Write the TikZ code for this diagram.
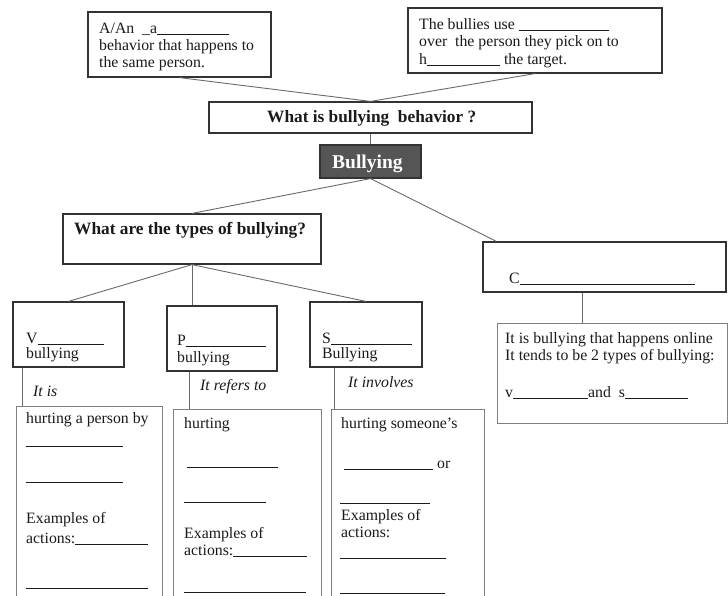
\documentclass[tikz,border=0pt]{standalone}
\usepackage{fontspec}
\setmainfont{Liberation Serif}
\newcommand\bodyfont{\fontsize{15.8}{17}\selectfont}
\newcommand\headfont{\fontsize{17.3}{19}\selectfont\bfseries}
\newcommand\blank[1]{\rule[-1.8pt]{#1pt}{0.6pt}}
\definecolor{ink}{HTML}{1A1A1A}
\definecolor{edge}{HTML}{333333}
\definecolor{softedge}{HTML}{808080}
\definecolor{wire}{HTML}{6A6A6A}
\definecolor{darkfill}{HTML}{555555}
\begin{document}
\begin{tikzpicture}[x=1pt,y=-1pt,
  box/.style={draw=edge,line width=1.2pt,inner sep=0pt,rectangle},
  softbox/.style={draw=softedge,line width=1pt,inner sep=0pt,rectangle},
  darkbox/.style={draw=edge,fill=darkfill,line width=1.2pt,inner sep=0pt,rectangle},
  wirestyle/.style={draw=wire,line width=0.9pt},
  txt/.style={anchor=base west,inner sep=0pt,text=ink,font=\bodyfont},
  head/.style={anchor=base west,inner sep=0pt,text=ink,font=\headfont},
  note/.style={anchor=base west,inner sep=0pt,text=ink,font=\bodyfont\itshape},
  gap/.style={anchor=west,inner sep=0pt,text=ink}
]
\useasboundingbox[fill=white] (0,0) rectangle (728,595);

% ---- boxes ----
\node[box,minimum width=183pt,minimum height=65pt] (A) at (179.5,44.5) {};
\node[box,minimum width=254pt,minimum height=65pt] (Bx) at (535,40.5) {};
\node[box,minimum width=323pt,minimum height=31pt] (Q) at (370.5,117.5) {};
\node[darkbox,minimum width=101pt,minimum height=33pt] (Bul) at (370.5,161.5) {};
\node[box,minimum width=258pt,minimum height=50pt] (T) at (192,239) {};
\node[box,minimum width=243pt,minimum height=50pt] (C) at (604.5,267) {};
\node[box,minimum width=111pt,minimum height=65pt] (V) at (68.5,334.5) {};
\node[box,minimum width=110pt,minimum height=65pt] (P) at (222,338.5) {};
\node[box,minimum width=112pt,minimum height=65pt] (S) at (366,334.5) {};
\node[softbox,minimum width=230pt,minimum height=100pt] (Cd) at (612,373) {};
\node[softbox,minimum width=146pt,minimum height=214pt] (Vd) at (89,513) {};
\node[softbox,minimum width=148pt,minimum height=211pt] (Pd) at (247,514.5) {};
\node[softbox,minimum width=153pt,minimum height=211pt] (Sd) at (407.5,514.5) {};

% ---- connectors ----
\coordinate (cx) at (582,0);
\coordinate (vx) at (22,0);
\coordinate (px) at (189,0);
\coordinate (sx) at (334,0);
\path[wirestyle] (A.south) -- (Q.north);
\path[wirestyle] (Bx.south) -- (Q.north);
\path[wirestyle] (Q.south) -- (Bul.north);
\path[wirestyle] (Bul.south) -- (T.north);
\path[wirestyle] (Bul.south) -- ([xshift=14pt]C.north west);
\path[wirestyle] (T.south) -- (V.north);
\path[wirestyle] (T.south) -- (T.south |- P.north);
\path[wirestyle] (T.south) -- (S.north);
\path[wirestyle] (C.south -| cx) -- (Cd.north -| cx);
\path[wirestyle] (V.south -| vx) -- (Vd.north -| vx);
\path[wirestyle] (P.south -| px) -- (Pd.north -| px);
\path[wirestyle] (S.south -| sx) -- (Sd.north -| sx);

% ---- top boxes ----
\node[txt] (a1) at (99,33) {A/An\ \ \_a\blank{72}};
\node[txt] (a2) at (99,50) {behavior that happens to};
\node[txt] (a3) at (99,67) {the same person.};
\node[txt] (b1) at (419,29) {The bullies use \blank{90}};
\node[txt] (b2) at (419,46.5) {over\ \ the person they pick on to};
\node[txt] (b3) at (419,64) {h\blank{73} the target.};

\node[head] (q1) at (267,122) {What is bullying\ \ behavior ?};
\node[anchor=base west,inner sep=0pt,text=white,font=\fontsize{19.5}{21}\selectfont\bfseries] (bul1) at (332,168) {Bullying};
\node[head] (t1) at (74,234) {What are the types of bullying?};
\node[txt] (c1) at (509,283) {C\blank{175}};

% ---- type boxes ----
\node[txt] (v1) at (26,343) {V\blank{66}};
\node[txt] (v2) at (26,358) {bullying};
\node[txt] (p1) at (177,345) {P\blank{80}};
\node[txt] (p2) at (177,362) {bullying};
\node[txt] (s1) at (322,343) {S\blank{81}};
\node[txt] (s2) at (322,358) {Bullying};

\node[note] (vn) at (33,396) {It is};
\node[note] (pn) at (200,390) {It refers to};
\node[note] (sn) at (348,387) {It involves};

% ---- verbal ----
\node[txt] (vd1) at (26,423) {hurting a person by};
\node[gap] (vd2) at (26,446) {\rule{97pt}{0.6pt}};
\node[gap] (vd3) at (26,482) {\rule{97pt}{0.6pt}};
\node[txt] (vd4) at (26,523) {Examples of};
\node[txt] (vd5) at (26,543) {actions:\blank{73}};
\node[gap] (vd6) at (26,588) {\rule{122pt}{0.6pt}};

% ---- physical ----
\node[txt] (pd1) at (184,428) {hurting};
\node[gap] (pd2) at (187,467) {\rule{91pt}{0.6pt}};
\node[gap] (pd3) at (184,502) {\rule{82pt}{0.6pt}};
\node[txt] (pd4) at (184,538) {Examples of};
\node[txt] (pd5) at (184,555) {actions:\blank{74}};
\node[gap] (pd6) at (184,592) {\rule{122pt}{0.6pt}};

% ---- social ----
\node[txt] (sd1) at (341,428) {hurting someone’s};
\node[txt] (sd2) at (344,468) {\blank{89}\ or};
\node[gap] (sd3) at (340,503) {\rule{90pt}{0.6pt}};
\node[txt] (sd4) at (341,520) {Examples of};
\node[txt] (sd5) at (341,537) {actions:};
\node[gap] (sd6) at (340,558) {\rule{106pt}{0.6pt}};
\node[gap] (sd7) at (340,593) {\rule{105pt}{0.6pt}};

% ---- cyber ----
\node[txt] (cd1) at (505,343) {It is bullying that happens online};
\node[txt] (cd2) at (505,360) {It tends to be 2 types of bullying:};
\node[txt] (cd3) at (505,397) {v\blank{75}and\ \ s\blank{63}};
\end{tikzpicture}
\end{document}
